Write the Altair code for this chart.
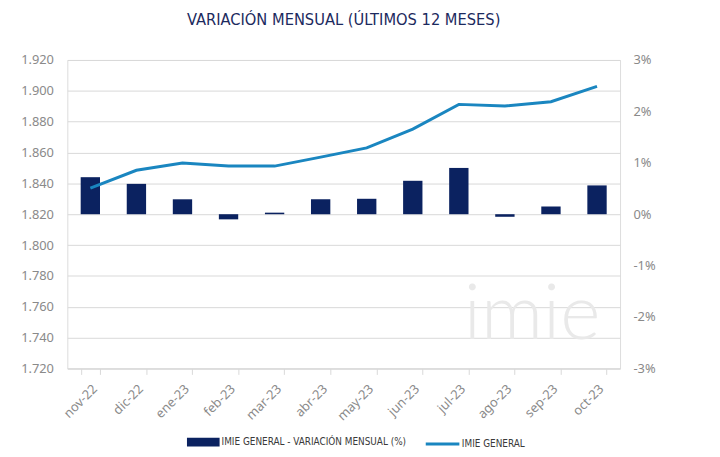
import altair as alt
import pandas as pd

meses = ["nov-22", "dic-22", "ene-23", "feb-23", "mar-23", "abr-23",
         "may-23", "jun-23", "jul-23", "ago-23", "sep-23", "oct-23"]
variacion = [0.72, 0.59, 0.29, -0.10, 0.03, 0.29, 0.30, 0.65, 0.90, -0.05, 0.15, 0.56]
indice = [1.8369, 1.8485, 1.8532, 1.8512, 1.8512, 1.8570, 1.8630, 1.8752,
          1.8912, 1.8901, 1.8929, 1.9029]
serie_barras = "IMIE GENERAL - VARIACIÓN MENSUAL (%)"
serie_linea = "IMIE GENERAL"
titulo = "VARIACIÓN MENSUAL (ÚLTIMOS 12 MESES)"
ticks_izq = [1.72, 1.74, 1.76, 1.78, 1.80, 1.82, 1.84, 1.86, 1.88, 1.90, 1.92]
ticks_der = [-3, -2, -1, 0, 1, 2, 3]
marca_agua = ["imie"]

NAVY = "#0b2260"
BLUE = "#1a86c0"
GRID = "#d9d9d9"
LABEL = "#8a8a8a"
NARROW = "'DejaVu Sans Condensed', 'Liberation Sans Narrow', 'Roboto Condensed', sans-serif"
SANS = "Noto Sans"

df = pd.DataFrame({"mes": meses, "variacion": variacion, "indice": indice,
                   "sb": serie_barras, "sl": serie_linea})

x_enc = alt.X("mes:N", sort=meses,
              scale=alt.Scale(paddingInner=0.58, paddingOuter=0.29),
              axis=alt.Axis(title=None, labelAngle=-45, tickBand="extent",
                            domainColor=GRID, tickColor=GRID, tickSize=6,
                            labelColor=LABEL, labelFont=SANS, labelFontSize=13,
                            labelPadding=8))

base = alt.Chart(df)

barras = base.mark_bar(color=NAVY).encode(
    x=x_enc,
    y=alt.Y("variacion:Q", scale=alt.Scale(domain=[-3, 3], nice=False),
            axis=alt.Axis(title=None, orient="right", values=ticks_der,
                          labelExpr="datum.value + '%'", grid=False, domain=False,
                          ticks=False, labelColor=LABEL, labelFont=SANS,
                          labelFontSize=13, labelPadding=13)),
    color=alt.Color("sb:N", scale=alt.Scale(domain=[serie_barras], range=[NAVY]),
                    legend=alt.Legend(title=None, orient="none", legendX=121, legendY=370,
                                      symbolType="M-1,-0.27L1,-0.27L1,0.27L-1,0.27Z",
                                      symbolSize=1089, symbolStrokeWidth=0,
                                      labelFont=NARROW, labelFontSize=10,
                                      labelLimit=400,
                                      labelColor="#3a3a3a", labelOffset=2)),
)

linea = base.mark_line(strokeWidth=3).encode(
    x=x_enc,
    y=alt.Y("indice:Q", scale=alt.Scale(domain=[1.72, 1.92], nice=False, zero=False),
            axis=alt.Axis(title=None, orient="left", values=ticks_izq, format=".3f",
                          grid=True, gridColor=GRID, domain=False, ticks=False,
                          labelColor=LABEL, labelFont=SANS, labelFontSize=13,
                          labelPadding=14)),
    stroke=alt.Stroke("sl:N", scale=alt.Scale(domain=[serie_linea], range=[BLUE]),
                      legend=alt.Legend(title=None, orient="none", legendX=361, legendY=370,
                                        symbolType="stroke", symbolSize=1156,
                                        symbolStrokeWidth=3,
                                        labelFont=NARROW, labelFontSize=10,
                                        labelLimit=300,
                                        labelColor="#3a3a3a", labelOffset=1)),
)

agua = alt.Chart(pd.DataFrame({"t": marca_agua})).mark_text(
    font="Lato", fontWeight=300, fontSize=78, color="#e9e9e9", align="center",
    baseline="alphabetic").encode(
    x=alt.value(470), y=alt.value(282), text="t:N")

chart = alt.layer(agua, barras, linea).resolve_scale(
    y="independent", color="independent", stroke="independent"
).properties(
    width=559, height=312,
    autosize=alt.AutoSizeParams(type="none"),
    padding={"left": 60, "top": 50, "right": 93, "bottom": 87},
    title=alt.TitleParams(titulo, font=NARROW, fontSize=16.5, fontWeight="normal",
                          color="#1c2a5e", anchor="middle", offset=26),
).configure_view(stroke=None).configure(background="white")

chart.save("out.html", embed_options={"renderer": "svg", "actions": False})
